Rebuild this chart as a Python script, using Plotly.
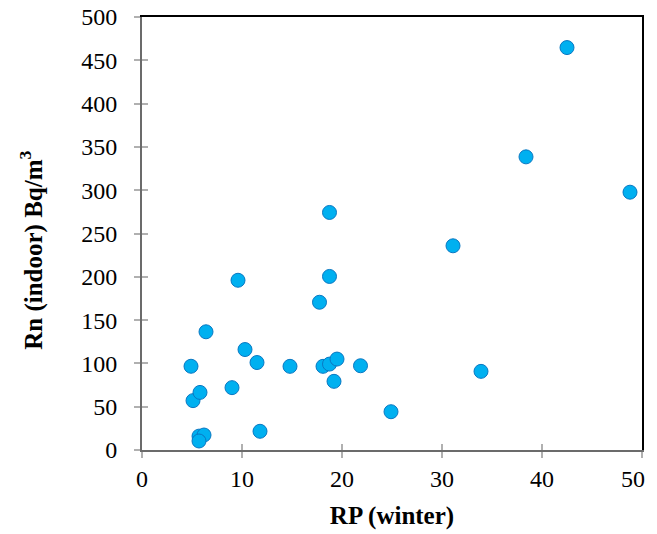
import plotly.graph_objects as go

rp_winter = [4.9, 5.1, 5.8, 5.7, 6.2, 5.7, 6.4, 9.6, 9.0, 10.3, 11.5, 11.8, 14.8,
             17.75, 18.75, 18.75, 18.1, 18.75, 19.5, 19.2, 21.85, 24.9, 31.1, 33.9,
             38.4, 42.5, 48.8]
rn_indoor = [96.7, 57, 66.5, 16, 17.3, 10.4, 136.5, 196, 72, 116, 101, 21.6, 96.6,
             170.6, 274.3, 200.4, 96.6, 99.2, 105, 79.3, 97.3, 44.2, 235.8, 90.8,
             338.5, 464.7, 297.7]
x_ticks = [0, 10, 20, 30, 40, 50]
x_labels = ["0", "10", "20", "30", "40", "50\u00a0\u00a0\u00a0"]
y_ticks = [0, 50, 100, 150, 200, 250, 300, 350, 400, 450, 500]

FONT = "Liberation Serif"
GREY = "#6b6b6b"
TICKC = "#b0b0b0"

fig = go.Figure()
fig.add_trace(go.Scatter(
    x=rp_winter, y=rn_indoor, mode="markers",
    marker=dict(size=14, color="#00B0F0", line=dict(color="#0A78C2", width=1)),
    showlegend=False, cliponaxis=False,
))
fig.add_trace(go.Scatter(x=[None], y=[None], xaxis="x2", yaxis="y2", showlegend=False))
fig.add_trace(go.Scatter(x=[None], y=[None], xaxis="x3", yaxis="y3", showlegend=False))

common = dict(showgrid=False, zeroline=False, automargin=False)
fig.update_layout(
    width=649, height=526,
    margin=dict(l=134, r=15, t=9, b=84),
    paper_bgcolor="white", plot_bgcolor="white",
    font=dict(family=FONT, size=24, color="black"),
    xaxis=dict(range=[0, 50], tickvals=x_ticks, ticktext=x_labels, ticks="outside", ticklen=6,
               tickcolor=TICKC, tickwidth=2, showline=True, linecolor=GREY, linewidth=2,
               ticklabelstandoff=0, ticklabeloverflow="allow",
               title=dict(text="<b>RP (winter)</b>", standoff=16, font=dict(size=25)),
               **common),
    yaxis=dict(range=[0, 500], tickvals=y_ticks, ticks="outside", ticklen=6,
               tickcolor=TICKC, tickwidth=2, showline=True, linecolor=GREY, linewidth=2,
               ticklabelstandoff=12, ticklabeloverflow="allow", **common),
    xaxis2=dict(range=[0, 50], tickvals=x_ticks, ticks="inside", ticklen=6,
                tickcolor=TICKC, tickwidth=2, showticklabels=False, showline=False,
                overlaying="x", side="bottom", **common),
    yaxis2=dict(range=[0, 500], tickvals=y_ticks, ticks="inside", ticklen=6,
                tickcolor=TICKC, tickwidth=2, showticklabels=False, showline=False,
                overlaying="y", side="left", **common),
    xaxis3=dict(range=[0, 50], showticklabels=False, ticks="", showline=True,
                linecolor="black", linewidth=2, overlaying="x", side="top", **common),
    yaxis3=dict(range=[0, 500], showticklabels=False, ticks="", showline=True,
                linecolor="black", linewidth=2, overlaying="y", side="right", **common),
    annotations=[dict(text="<b>Rn (indoor) Bq/m<sup>3</sup></b>", textangle=-90,
                      xref="paper", yref="paper", x=-0.22, y=0.46,
                      xanchor="center", yanchor="middle", showarrow=False,
                      font=dict(size=25))],
)
fig.write_html("out.html")
